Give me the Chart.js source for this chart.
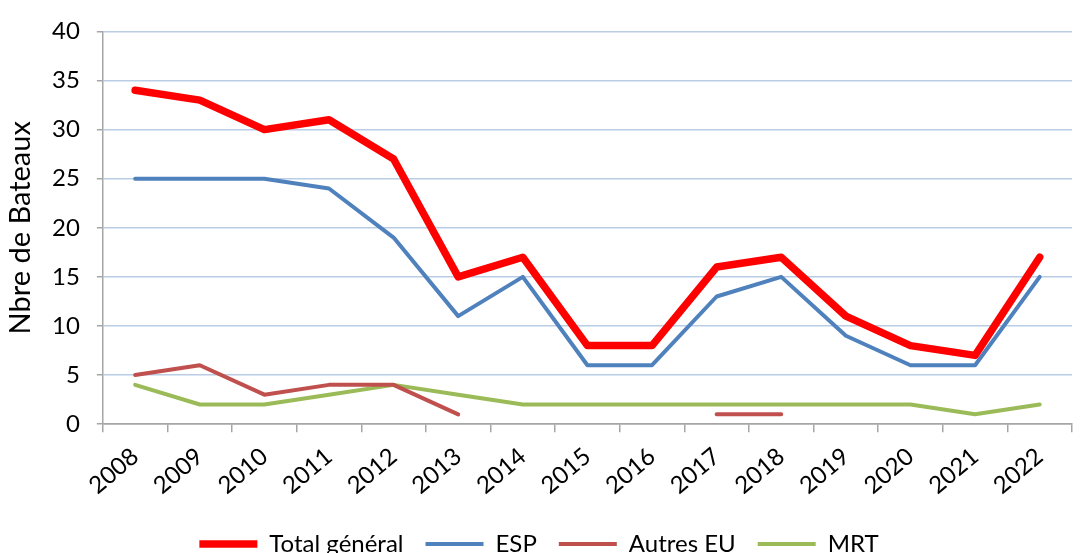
<!DOCTYPE html>
<html>
<head>
<meta charset="utf-8">
<script src="https://cdn.jsdelivr.net/npm/chart.js@4.4.1/dist/chart.umd.min.js"></script>
<style>
  html, body { margin: 0; padding: 0; background: #fff; overflow: hidden; }
  #wrap { position: relative; width: 1080px; height: 566px; }
</style>
</head>
<body>
<div id="wrap"><canvas id="chart"></canvas></div>
<script>
// données
const annees = ['2008','2009','2010','2011','2012','2013','2014','2015','2016','2017','2018','2019','2020','2021','2022'];
const totalGeneral = [34, 33, 30, 31, 27, 15, 17, 8, 8, 16, 17, 11, 8, 7, 17];
const esp = [25, 25, 25, 24, 19, 11, 15, 6, 6, 13, 15, 9, 6, 6, 15];
const autresEU = [5, 6, 3, 4, 4, 1, null, null, null, 1, 1, null, null, null, null];
const mrt = [4, 2, 2, 3, 4, 3, 2, 2, 2, 2, 2, 2, 2, 1, 2];
const yTicks = [0, 5, 10, 15, 20, 25, 30, 35, 40];

const police = 'Lato, "Liberation Sans", sans-serif';

function serie(label, data, color, width) {
  return {
    label, data,
    borderColor: color, backgroundColor: color,
    borderWidth: width,
    pointRadius: 0, pointHoverRadius: 0,
    borderCapStyle: 'round', borderJoinStyle: 'round',
    tension: 0, spanGaps: false, fill: false
  };
}

new Chart(document.getElementById('chart'), {
  type: 'line',
  data: {
    labels: annees,
    datasets: [
      serie('Total général', totalGeneral, '#FF0000', 7.5),
      serie('ESP', esp, '#4F81BD', 4),
      serie('Autres EU', autresEU, '#C0504D', 4),
      serie('MRT', mrt, '#9BBB59', 4)
    ]
  },
  options: {
    responsive: true,
    maintainAspectRatio: false,
    animation: false,
    layout: { padding: { top: 9, right: 8, left: 6, bottom: 0 } },
    plugins: {
      tooltip: { enabled: false },
      legend: {
        position: 'bottom',
        labels: {
          usePointStyle: true,
          pointStyle: 'line',
          pointStyleWidth: 58,
          boxHeight: 20,
          padding: 22,
          color: '#000',
          font: { family: police, size: 24 }
        }
      }
    },
    scales: {
      x: {
        offset: true,
        border: { color: '#a6a6a6', width: 1.5 },
        grid: { offset: true, drawOnChartArea: false, drawTicks: true, tickLength: 8, color: '#a6a6a6', lineWidth: 1.5 },
        ticks: {
          color: '#000',
          font: { family: police, size: 24 },
          maxRotation: 40, minRotation: 40,
          padding: 10
        }
      },
      y: {
        min: 0, max: 40,
        afterBuildTicks: (axis) => { axis.ticks = yTicks.map(v => ({ value: v })); },
        border: { color: '#a6a6a6', width: 1.5 },
        grid: {
          color: (ctx) => ctx.tick && ctx.tick.value === 0 ? '#a6a6a6' : '#b9cde5',
          lineWidth: 1.5,
          tickColor: '#a6a6a6',
          tickLength: 6
        },
        ticks: { color: '#000', font: { family: police, size: 24 }, padding: 17 },
        title: {
          display: true,
          text: 'Nbre de Bateaux',
          color: '#000',
          font: { family: police, size: 29, lineHeight: 1 },
          padding: { top: 0, bottom: 0 }
        }
      }
    }
  }
});
</script>
</body>
</html>
